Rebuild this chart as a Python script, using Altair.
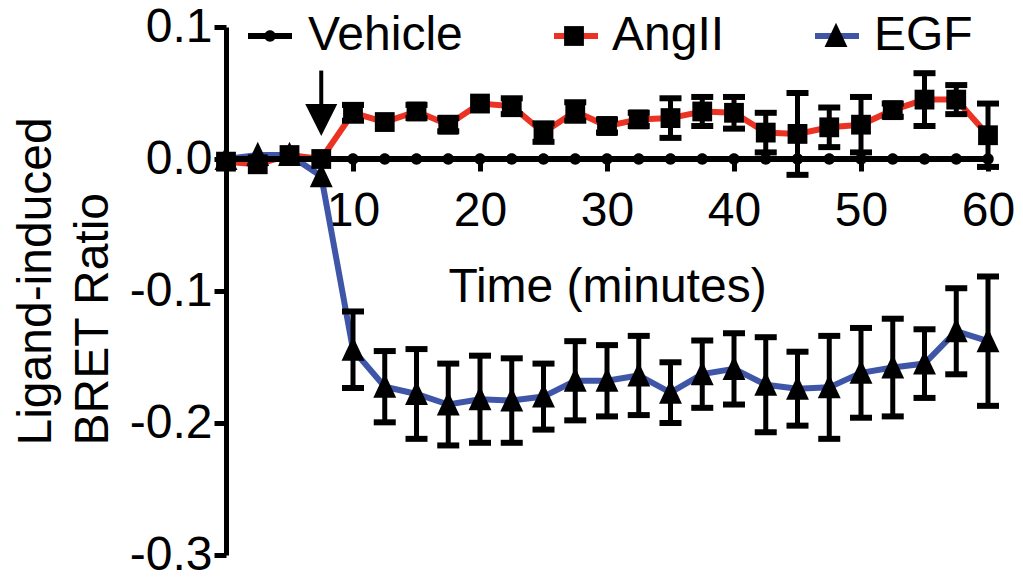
import altair as alt
import pandas as pd

FONT = "Liberation Sans"
RED = "#ec3323"
BLUE = "#3f56a8"

# ---- data ----
time_min = [0, 2.5, 5, 7.5, 10, 12.5, 15, 17.5, 20, 22.5, 25, 27.5, 30,
            32.5, 35, 37.5, 40, 42.5, 45, 47.5, 50, 52.5, 55, 57.5, 60]

vehicle_mean = [0.0, 0.0, 0.0, 0.0, 0.0, 0.0, 0.0, 0.0, 0.0, 0.0, 0.0, 0.0, 0.0,
                0.0, 0.0, 0.0, 0.0, 0.0, 0.0, 0.0, 0.0, 0.0, 0.0, 0.0, 0.0]

angii_mean = [-0.002, -0.004, 0.003, 0.000, 0.035, 0.028, 0.036, 0.026, 0.042,
              0.040, 0.020, 0.036, 0.025, 0.030, 0.031, 0.036, 0.035, 0.020,
              0.019, 0.024, 0.026, 0.037, 0.045, 0.045, 0.018]
angii_err = [0.0, 0.0, 0.0, 0.0, 0.006, 0.004, 0.005, 0.005, 0.004,
             0.006, 0.007, 0.007, 0.005, 0.005, 0.015, 0.011, 0.012, 0.015,
             0.031, 0.015, 0.021, 0.005, 0.020, 0.011, 0.024]

egf_mean = [0.000, 0.003, 0.003, -0.013, -0.1445, -0.1725, -0.178, -0.186, -0.182,
            -0.183, -0.180, -0.168, -0.168, -0.164, -0.177, -0.163, -0.159, -0.171,
            -0.174, -0.173, -0.162, -0.158, -0.155, -0.1305, -0.138]
egf_err = [0.0, 0.0, 0.0, 0.0, 0.029, 0.027, 0.034, 0.031, 0.033,
           0.032, 0.025, 0.030, 0.027, 0.030, 0.023, 0.0255, 0.027, 0.036,
           0.028, 0.039, 0.034, 0.037, 0.026, 0.0326, 0.049]

series_order = ["Vehicle", "AngII", "EGF"]
line_colors = {"Vehicle": "black", "AngII": RED, "EGF": BLUE}

# ligand addition arrow (annotation)
arrow_time = [7.5]
arrow_shaft_top = [0.067]
arrow_shaft_bottom = [0.035]
arrow_head_center = [0.0295]

x_ticks = [10, 20, 30, 40, 50, 60]
y_ticks = [-0.3, -0.2, -0.1, 0.0, 0.1]

# ---- tables ----
rows = []
for name, means, errs in [("Vehicle", vehicle_mean, [0.0] * len(time_min)),
                          ("AngII", angii_mean, angii_err),
                          ("EGF", egf_mean, egf_err)]:
    for t, m, e in zip(time_min, means, errs):
        rows.append({"time": t, "mean": m, "lo": m - e, "hi": m + e, "err": e,
                     "series": name, "series_line": name})
df = pd.DataFrame(rows)
err_df = df[df["err"] > 0.004]
arrow_df = pd.DataFrame({"time": arrow_time, "top": arrow_shaft_top,
                         "bottom": arrow_shaft_bottom, "head": arrow_head_center})

# marker paths (unit square, scaled by sqrt(size)/2)
CIRCLE = "M-0.26,0A0.26,0.26,0,1,0,0.26,0A0.26,0.26,0,1,0,-0.26,0Z"
SQUARE = "M-0.45,-0.45L0.45,-0.45L0.45,0.45L-0.45,0.45Z"
TRIANGLE = "M0,-0.6L0.52,0.5L-0.52,0.5Z"
ARROWHEAD = "M-1,-1L1,-1L0,1Z"
SYM = 1936

W, H = 762, 528

x_axis = alt.Axis(values=x_ticks, offset=-H * 0.75, grid=False, labelFlush=False,
                  domainColor="black", domainWidth=5,
                  tickColor="black", tickWidth=5, tickSize=12,
                  labelFont=FONT, labelFontSize=48, labelColor="black", labelPadding=16,
                  title="Time (minutes)", titleFont=FONT, titleFontSize=48,
                  titleFontWeight="normal", titleColor="black", titlePadding=28)
y_axis = alt.Axis(values=y_ticks, grid=False, labelFlush=False,
                  labelExpr="datum.value == 0 ? '0.0' : '' + datum.value",
                  domainColor="black", domainWidth=5,
                  tickColor="black", tickWidth=5, tickSize=12,
                  labelFont=FONT, labelFontSize=48, labelColor="black", labelPadding=2,
                  title=["Ligand-induced", " BRET Ratio"], titleFont=FONT, titleFontSize=48,
                  titleFontWeight="normal", titleColor="black",
                  titleAngle=270, titleAlign="left", titleBaseline="alphabetic",
                  titleX=-176, titleY=418, titleLineHeight=57)

xs = alt.Scale(domain=[0, 60], nice=False, zero=False)
ys = alt.Scale(domain=[-0.3, 0.1], nice=False, zero=False)

def X(field="time"):
    return alt.X(f"{field}:Q", scale=xs, axis=x_axis)

def Y(field="mean"):
    return alt.Y(f"{field}:Q", scale=ys, axis=y_axis)

# legend layout: marker legend carries the labels; one line-segment legend per
# series sits under each marker (entry offsets follow the label widths)
LEG_X, LEG_Y = 19, -16
LABEL_OFFSET, COL_PAD = 13, 86
entry_offset = {"Vehicle": 0, "AngII": 306, "EGF": 567}

mark_legend = alt.Legend(title=None, orient="none", legendX=LEG_X, legendY=LEG_Y,
                         direction="horizontal", symbolSize=SYM,
                         symbolStrokeWidth=6, symbolStrokeColor="transparent",
                         symbolFillColor="black", labelFont=FONT, labelFontSize=48,
                         labelColor="black", labelOffset=LABEL_OFFSET,
                         columnPadding=COL_PAD, labelLimit=400, zindex=2, padding=0)

def line_layer(name):
    sub = df[df["series_line"] == name]
    leg = alt.Legend(title=None, orient="none", legendX=LEG_X + entry_offset[name],
                     legendY=LEG_Y, direction="horizontal", symbolType="stroke",
                     symbolSize=SYM, symbolStrokeWidth=6, labelExpr="''",
                     labelFontSize=48, labelOffset=LABEL_OFFSET, zindex=1, padding=0)
    return alt.Chart(sub).mark_line(strokeWidth=6).encode(
        x=X(), y=Y(),
        color=alt.Color("series_line:N",
                        scale=alt.Scale(domain=[name], range=[line_colors[name]]),
                        legend=leg))

err_rule = alt.Chart(err_df).mark_rule(color="black", strokeWidth=5).encode(
    x=X(), y=Y("lo"), y2="hi:Q")
cap_lo = alt.Chart(err_df).mark_tick(color="black", orient="horizontal", opacity=1,
                                     size=22, thickness=6).encode(x=X(), y=Y("lo"))
cap_hi = alt.Chart(err_df).mark_tick(color="black", orient="horizontal", opacity=1,
                                     size=22, thickness=6).encode(x=X(), y=Y("hi"))

markers = alt.Chart(df).mark_point(filled=True, color="black", opacity=1,
                                   size=SYM, strokeWidth=0).encode(
    x=X(), y=Y(),
    shape=alt.Shape("series:N", sort=series_order,
                    scale=alt.Scale(range=[CIRCLE, SQUARE, TRIANGLE]),
                    legend=mark_legend))

arrow_shaft = alt.Chart(arrow_df).mark_rule(color="black", strokeWidth=4).encode(
    x=X(), y=Y("top"), y2="bottom:Q")
arrow_head = alt.Chart(arrow_df).mark_point(filled=True, color="black", opacity=1,
                                            shape=ARROWHEAD, size=1024,
                                            strokeWidth=0).encode(
    x=X(), y=Y("head"))

chart = alt.layer(line_layer("AngII"), line_layer("EGF"), line_layer("Vehicle"),
                  err_rule, cap_lo, cap_hi, markers,
                  arrow_shaft, arrow_head).resolve_scale(color="independent").properties(
    width=W, height=H,
    autosize=alt.AutoSizeParams(type="none"),
    padding={"left": 218, "top": 19, "right": 27, "bottom": 26},
).configure(background="white").configure_view(stroke=None)

chart.save("out.html", embed_options={"renderer": "svg", "actions": False})
